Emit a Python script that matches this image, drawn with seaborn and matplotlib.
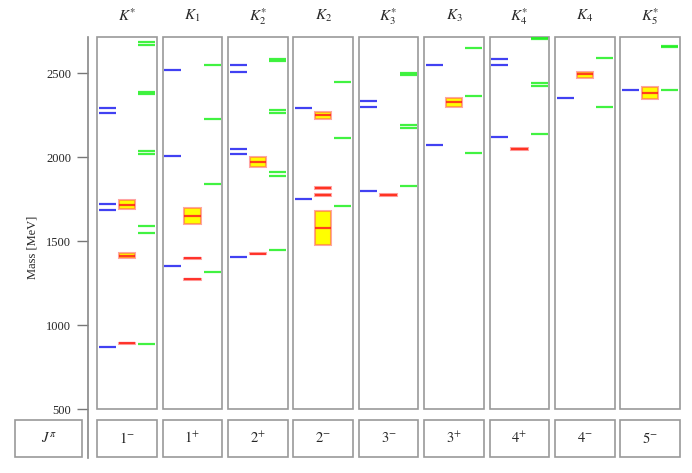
import pandas as pd
import seaborn as sns
import matplotlib.pyplot as plt
from matplotlib.patches import Rectangle

# panel labels
names = [r"$K^{*}$", r"$K_1$", r"$K_2^{*}$", r"$K_2$", r"$K_3^{*}$",
         r"$K_3$", r"$K_4^{*}$", r"$K_4$", r"$K_5^{*}$"]
jp_labels = [r"$1^{-}$", r"$1^{+}$", r"$2^{+}$", r"$2^{-}$", r"$3^{-}$",
             r"$3^{+}$", r"$4^{+}$", r"$4^{-}$", r"$5^{-}$"]

# model A (blue) masses, MeV
blue_masses = [
    [869, 1686, 1720, 2264, 2291],
    [1353, 2008, 2518],
    [1406, 2020, 2051, 2510, 2550],
    [1752, 2293],
    [1801, 2301, 2337],
    [2075, 2550],
    [2123, 2551, 2587],
    [2355],
    [2399],
]
# model B (green) masses, MeV
green_masses = [
    [889, 1551, 1589, 2021, 2039, 2377, 2390, 2670, 2688],
    [1315, 1841, 2230, 2551],
    [1448, 1890, 1914, 2265, 2282, 2575, 2585],
    [1710, 2117, 2449],
    [1831, 2176, 2195, 2490, 2500],
    [2027, 2365, 2652],
    [2137, 2426, 2443, 2702, 2708],
    [2299, 2589],
    [2402, 2655, 2665],
]
# experiment: central mass, lower, upper
exp_mass = [
    [892, 1414, 1718],
    [1274, 1400, 1650],
    [1426, 1974],
    [1579, 1774, 1818, 2250],
    [1777],
    [2327],
    [2048],
    [2494],
    [2385],
]
exp_lo = [
    [890, 1399, 1690],
    [1271, 1397, 1600],
    [1424, 1942],
    [1478, 1768, 1813, 2228],
    [1771],
    [2301],
    [2043],
    [2470],
    [2349],
]
exp_hi = [
    [894, 1429, 1744],
    [1277, 1403, 1700],
    [1428, 2004],
    [1680, 1780, 1823, 2268],
    [1783],
    [2351],
    [2053],
    [2510],
    [2417],
]

rows = []
for i in range(len(names)):
    for m in blue_masses[i]:
        rows.append(dict(panel=i, kind="blue", mass=m, lo=m, hi=m))
    for m in green_masses[i]:
        rows.append(dict(panel=i, kind="green", mass=m, lo=m, hi=m))
    for m, lo, hi in zip(exp_mass[i], exp_lo[i], exp_hi[i]):
        rows.append(dict(panel=i, kind="exp", mass=m, lo=lo, hi=hi))
df = pd.DataFrame(rows)

sns.set_theme(style="white")
plt.rcParams["font.family"] = ["Liberation Serif", "DejaVu Serif"]
plt.rcParams["mathtext.fontset"] = "stix"

fig = plt.figure(figsize=(6.92, 4.73), dpi=100)
ax = fig.add_axes([88 / 692, 15 / 473, 597 / 692, 421 / 473])
ax.set_xlim(-0.596, 8.532)
ax.set_ylim(210, 2716)

frame_col = "#999999"
half = 0.455
for i in range(len(names)):
    ax.add_patch(Rectangle((i - half, 500), 2 * half, 2716 - 500, fill=False,
                           ec=frame_col, lw=1.2, clip_on=False))
    ax.add_patch(Rectangle((i - half, 216), 2 * half, 220, fill=False,
                           ec=frame_col, lw=1.2, clip_on=False))
    ax.text(i, 2840, names[i], ha="center", va="center", fontsize=11)
    ax.text(i, 328, jp_labels[i], ha="center", va="center", fontsize=10.5)

# J^pi box to the left of the axis
ax.add_patch(Rectangle((-1.713, 216), 1.025, 220, fill=False,
                       ec=frame_col, lw=1.2, clip_on=False))
ax.text(-1.2, 328, r"$J^{\pi}$", ha="center", va="center", fontsize=10.5)

b = df[df.kind == "blue"]
ax.hlines(b.mass, b.panel - 0.43, b.panel - 0.17, color="#2020f0", lw=1.6, alpha=0.85)
g = df[df.kind == "green"]
ax.hlines(g.mass, g.panel + 0.17, g.panel + 0.43, color="#20f020", lw=1.6, alpha=0.85)
e = df[df.kind == "exp"]
ax.bar(e.panel, e.hi - e.lo, bottom=e.lo, width=0.25, color="#ffff00",
       edgecolor=(1, 0.35, 0.35, 0.55), linewidth=1.5)
ax.hlines(e.mass, e.panel - 0.125, e.panel + 0.125, color="#ff2020", lw=1.6, alpha=0.85)

ax.set_yticks([500, 1000, 1500, 2000, 2500])
ax.set_xticks([])
ax.tick_params(axis="y", direction="out", length=8, width=1, color="#777777",
               labelsize=9, pad=4, left=True)
ax.set_ylabel("Mass [MeV]", fontsize=9, labelpad=6)
for s in ["top", "right", "bottom"]:
    ax.spines[s].set_visible(False)
ax.spines["left"].set_color("#888888")
ax.spines["left"].set_linewidth(1.2)

fig.savefig("out.png", dpi=100)
